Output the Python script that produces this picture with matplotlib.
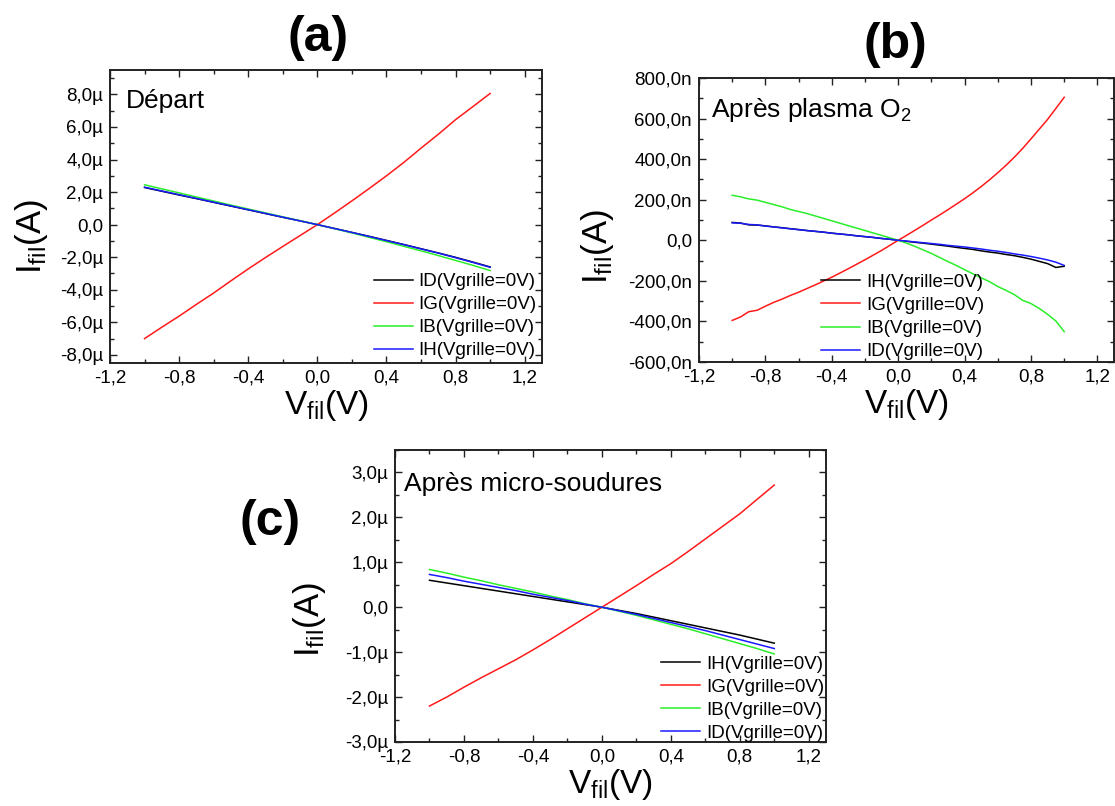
import matplotlib
matplotlib.use('Agg')
import matplotlib.pyplot as plt
from matplotlib.ticker import MultipleLocator, FuncFormatter

plt.rcParams['font.family'] = ['Liberation Sans', 'DejaVu Sans']
plt.rcParams['mathtext.fontset'] = 'custom'
plt.rcParams['mathtext.rm'] = 'Liberation Sans'
plt.rcParams['mathtext.it'] = 'Liberation Sans:italic'
plt.rcParams['mathtext.bf'] = 'Liberation Sans:bold'
plt.rcParams['mathtext.default'] = 'regular'

# ---------------- data ----------------
# voltage sweeps (V)
V21 = [-1.0, -0.9, -0.8, -0.7, -0.6, -0.5, -0.4, -0.3, -0.2, -0.1, 0.0,
       0.1, 0.2, 0.3, 0.4, 0.5, 0.6, 0.7, 0.8, 0.9, 1.0]
V41 = [-1.0, -0.95, -0.9, -0.85, -0.8, -0.75, -0.7, -0.65, -0.6, -0.55, -0.5,
       -0.45, -0.4, -0.35, -0.3, -0.25, -0.2, -0.15, -0.1, -0.05, 0.0,
       0.05, 0.1, 0.15, 0.2, 0.25, 0.3, 0.35, 0.4, 0.45, 0.5,
       0.55, 0.6, 0.65, 0.7, 0.75, 0.8, 0.85, 0.9, 0.95, 1.0]

# (a) Départ, currents in µA
a_ID = [2.28, 2.05, 1.82, 1.60, 1.37, 1.14, 0.91, 0.68, 0.45, 0.23, 0.0,
        -0.24, -0.48, -0.72, -0.97, -1.22, -1.48, -1.74, -2.01, -2.30, -2.60]
a_IG = [-7.0, -6.3, -5.62, -4.9, -4.2, -3.45, -2.72, -2.02, -1.34, -0.67, 0.0,
        0.72, 1.46, 2.22, 3.0, 3.82, 4.7, 5.55, 6.45, 7.25, 8.06]
a_IB = [2.45, 2.2, 1.95, 1.7, 1.45, 1.2, 0.96, 0.72, 0.48, 0.24, 0.0,
        -0.25, -0.51, -0.78, -1.05, -1.33, -1.61, -1.9, -2.2, -2.5, -2.82]
a_IH = [2.30, 2.07, 1.84, 1.61, 1.38, 1.15, 0.92, 0.69, 0.46, 0.23, 0.0,
        -0.24, -0.48, -0.73, -0.98, -1.23, -1.49, -1.75, -2.03, -2.32, -2.62]

# (b) Après plasma O2, currents in nA
b_IH = [88, 85, 76, 75, 71, 66, 62, 57, 53, 48, 44,
        40, 35, 31, 27, 22, 18, 14, 9, 5, 0,
        -5, -10, -14, -19, -24, -29, -35, -40, -45, -52,
        -58, -63, -70, -76, -84, -93, -104, -115, -134, -128]
b_IG = [-395, -378, -352, -345, -325, -306, -290, -272, -256, -238, -220,
        -201, -182, -161, -140, -118, -96, -73, -50, -25, 0,
        24, 49, 74, 100, 125, 151, 178, 205, 234, 265,
        298, 333, 370, 410, 453, 500, 548, 596, 650, 705]
b_IB = [222, 214, 204, 198, 187, 176, 165, 152, 142, 132, 120,
        108, 96, 84, 72, 60, 48, 36, 24, 12, 0,
        -14, -30, -47, -65, -85, -105, -124, -145, -165, -185,
        -204, -228, -247, -268, -296, -312, -336, -365, -398, -450]
b_ID = [86, 84, 78, 76, 70, 66, 61, 57, 52, 48, 44,
        40, 35, 31, 27, 22, 18, 14, 9, 5, 0,
        -4, -8, -12, -16, -20, -25, -29, -33, -38, -43,
        -49, -54, -60, -67, -73, -80, -88, -97, -108, -124]

# (c) Après micro-soudures, currents in µA
c_IH = [0.60, 0.54, 0.48, 0.42, 0.36, 0.30, 0.24, 0.18, 0.12, 0.06, 0.0,
        -0.07, -0.14, -0.22, -0.30, -0.38, -0.46, -0.54, -0.62, -0.71, -0.80]
c_IG = [-2.2, -2.0, -1.78, -1.57, -1.37, -1.17, -0.95, -0.72, -0.48, -0.24, 0.0,
        0.24, 0.48, 0.73, 0.97, 1.24, 1.52, 1.80, 2.08, 2.40, 2.72]
c_IB = [0.84, 0.76, 0.67, 0.59, 0.50, 0.42, 0.34, 0.25, 0.17, 0.08, 0.0,
        -0.09, -0.18, -0.28, -0.38, -0.48, -0.59, -0.70, -0.81, -0.92, -1.04]
c_ID = [0.73, 0.66, 0.58, 0.51, 0.44, 0.37, 0.29, 0.22, 0.15, 0.07, 0.0,
        -0.08, -0.16, -0.25, -0.34, -0.43, -0.52, -0.62, -0.72, -0.82, -0.92]

LEG = '(Vgrille=0V)'
COL = {'k': '#000000', 'r': '#ff1a1a', 'g': '#2aee2a', 'b': '#1a1aff'}

# ---------------- helpers ----------------
def fmt(suffix):
    def f(v, pos):
        if abs(v) < 1e-9:
            return '0,0'
        return f"{v:.1f}".replace('.', ',') + suffix
    return f


def style(ax, ylim, ymaj, ymin, suffix):
    ax.set_xlim(-1.2, 1.3)
    ax.set_ylim(*ylim)
    ax.xaxis.set_major_locator(MultipleLocator(0.4))
    ax.xaxis.set_minor_locator(MultipleLocator(0.2))
    ax.yaxis.set_major_locator(MultipleLocator(ymaj))
    ax.yaxis.set_minor_locator(MultipleLocator(ymin))
    ax.xaxis.set_major_formatter(FuncFormatter(fmt('')))
    ax.yaxis.set_major_formatter(FuncFormatter(fmt(suffix)))
    ax.tick_params(which='both', direction='in', top=True, right=True,
                   labelsize=13.5, width=1.0, pad=5, color='#222222')
    ax.tick_params(which='major', length=5)
    ax.tick_params(which='minor', length=3)
    for s in ax.spines.values():
        s.set_linewidth(1.4)
        s.set_color('#222222')
    ax.set_xlabel(r'V$_{fil}$(V)', fontsize=24)
    ax.set_ylabel(r'I$_{fil}$(A)', fontsize=25)


def legend(ax, x0, y0):
    ax.legend(loc='lower left', bbox_to_anchor=(x0, y0), frameon=False,
              fontsize=13.5, handlelength=2.1, handletextpad=0.3,
              labelspacing=0.32, borderpad=0, borderaxespad=0)


fig = plt.figure(figsize=(11.15, 8.06), dpi=100)
W, H = 1115.0, 806.0


def axes_px(l, t, r, b):
    return fig.add_axes([l / W, 1 - b / H, (r - l) / W, (b - t) / H])


lw = 1.1

# ---- (a)
axa = axes_px(110, 70, 542, 363)
axa.plot(V21, a_ID, color=COL['k'], lw=lw, label='ID' + LEG)
axa.plot(V21, a_IG, color=COL['r'], lw=lw, label='IG' + LEG)
axa.plot(V21, a_IB, color=COL['g'], lw=lw, label='IB' + LEG)
axa.plot(V21, a_IH, color=COL['b'], lw=lw, label='IH' + LEG)
style(axa, (-8.5, 9.5), 2, 1, 'µ')
axa.xaxis.set_label_coords(0.5, -0.085)
axa.yaxis.set_label_coords(-0.14, 0.43)
axa.text(0.037, 0.87, 'Départ', transform=axa.transAxes, fontsize=19, va='baseline')
legend(axa, 0.61, 0.012)

# ---- (b)
axb = axes_px(699, 78, 1114, 362)
axb.plot(V41, b_IH, color=COL['k'], lw=lw, label='IH' + LEG)
axb.plot(V41, b_IG, color=COL['r'], lw=lw, label='IG' + LEG)
axb.plot(V41, b_IB, color=COL['g'], lw=lw, label='IB' + LEG)
axb.plot(V41, b_ID, color=COL['b'], lw=lw, label='ID' + LEG)
style(axb, (-600, 800), 200, 100, 'n')
axb.xaxis.set_label_coords(0.5, -0.088)
axb.yaxis.set_label_coords(-0.2, 0.405)
axb.text(0.029, 0.863, r'Après plasma O$_2$', transform=axb.transAxes, fontsize=19,
         va='baseline')
legend(axb, 0.294, 0.006)

# ---- (c)
axc = axes_px(395, 450, 826, 742)
axc.plot(V21, c_IH, color=COL['k'], lw=lw, label='IH' + LEG)
axc.plot(V21, c_IG, color=COL['r'], lw=lw, label='IG' + LEG)
axc.plot(V21, c_IB, color=COL['g'], lw=lw, label='IB' + LEG)
axc.plot(V21, c_ID, color=COL['b'], lw=lw, label='ID' + LEG)
style(axc, (-3.0, 3.5), 1, 0.5, 'µ')
axc.xaxis.set_label_coords(0.5, -0.085)
axc.yaxis.set_label_coords(-0.155, 0.418)
axc.text(0.021, 0.86, 'Après micro-soudures', transform=axc.transAxes, fontsize=19,
         va='baseline')
legend(axc, 0.617, 0.0)

# ---- panel letters
fig.text(318 / W, 1 - 38 / H, '(a)', ha='center', va='center', fontsize=36,
         fontweight='bold')
fig.text(895 / W, 1 - 45 / H, '(b)', ha='center', va='center', fontsize=36,
         fontweight='bold')
fig.text(270 / W, 1 - 522 / H, '(c)', ha='center', va='center', fontsize=36,
         fontweight='bold')

fig.savefig('out.png', dpi=100)
